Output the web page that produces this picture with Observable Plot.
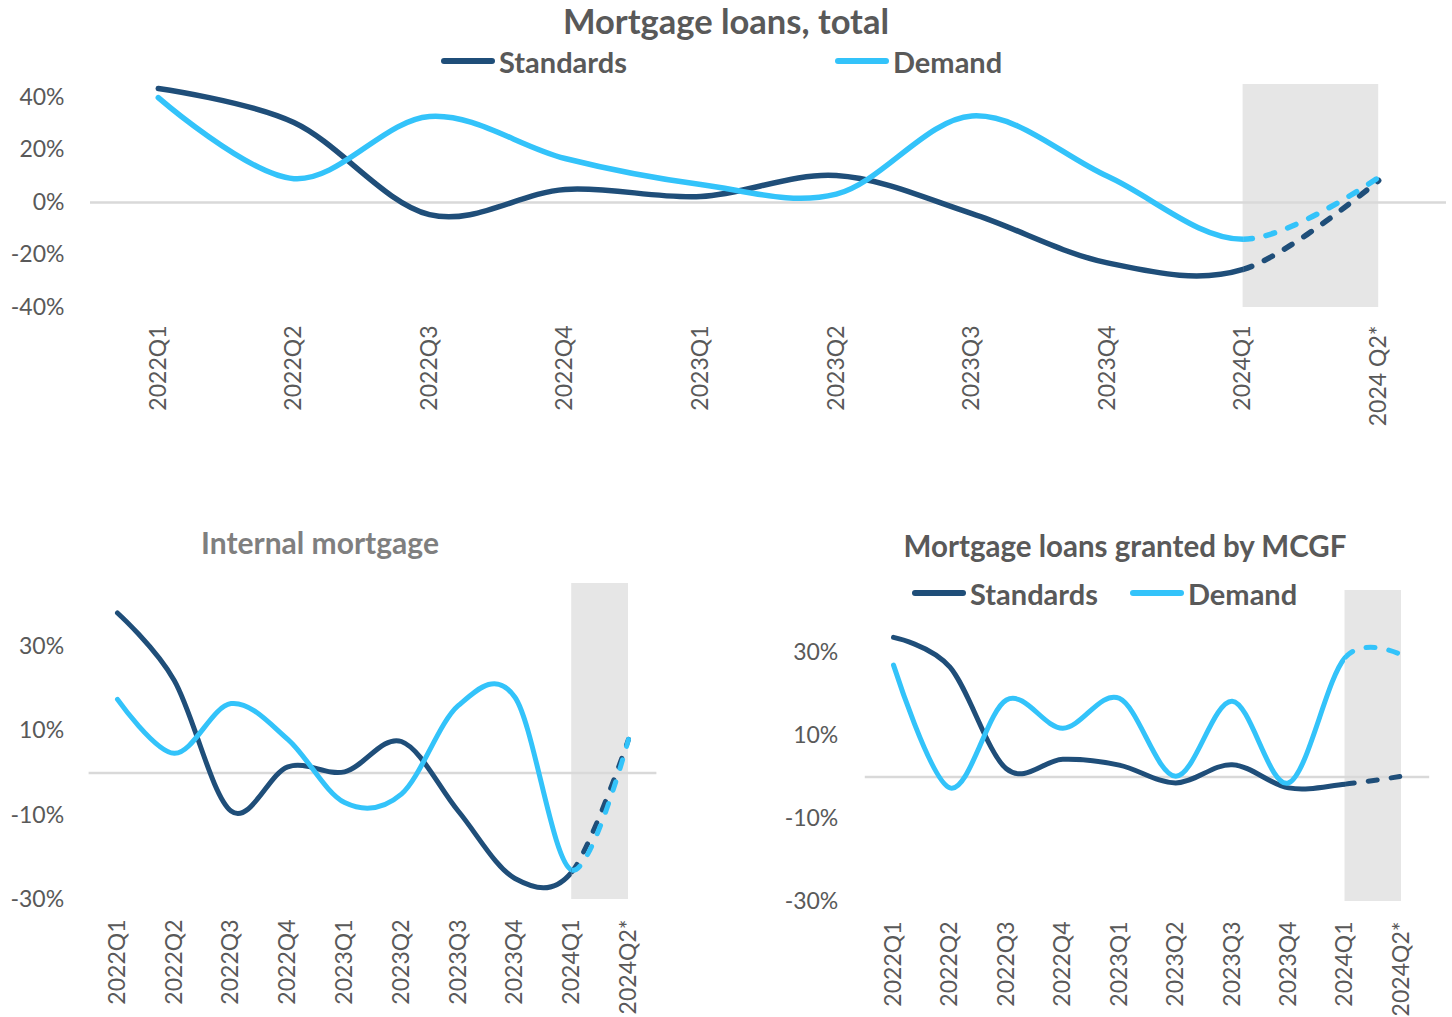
<!DOCTYPE html>
<html>
<head>
<meta charset="utf-8">
<script src="https://cdn.jsdelivr.net/npm/d3@7"></script>
<script src="https://cdn.jsdelivr.net/npm/@observablehq/plot@0.6"></script>
<style>
  html, body { margin: 0; padding: 0; background: #fff; }
  #root { position: relative; width: 1452px; height: 1017px; background: #fff; font-family: Lato, "Open Sans", sans-serif; color: #595959; overflow: hidden; }
  .title { position: absolute; font-weight: 700; white-space: nowrap; text-align: center; }
  .legend-item { position: absolute; display: flex; align-items: center; font-weight: 700; font-size: 29px; white-space: nowrap; }
  .legend-item .sw { display: inline-block; width: 54px; height: 6px; border-radius: 3px; margin-right: 4px; }
  .chart { position: absolute; }
  #err { position: absolute; left: 10px; top: 450px; color: red; font-size: 14px; white-space: pre; }
</style>
</head>
<body>
<div id="root"></div>
<script>
// ---------- data ----------
const categoriesTop = ["2022Q1","2022Q2","2022Q3","2022Q4","2023Q1","2023Q2","2023Q3","2023Q4","2024Q1","2024 Q2*"];
const categoriesBottom = ["2022Q1","2022Q2","2022Q3","2022Q4","2023Q1","2023Q2","2023Q3","2023Q4","2024Q1","2024Q2*"];
const yTicksTop = [-40, -20, 0, 20, 40];
const yTicksBottom = [-30, -10, 10, 30];

const totalStandards = [43.5, 30.5, -4.6, 5, 2.3, 10.3, -4.2, -23, -25.5, 8.4];
const totalDemand    = [40, 9.1, 32.8, 16.8, 6.9, 3.2, 33, 10, -14, 9.6];

const internalStandards = [38, 22, -9, 1.5, 0.3, 7.5, -9, -25, -23.5, 8];
const internalDemand    = [17.5, 4.7, 16.5, 8, -7, -5, 16, 18, -23, 8];

const mcgfStandards = [33.7, 26.5, 2, 4.3, 2.9, -1.4, 3, -2.6, -1.7, 0.2];
const mcgfDemand    = [27, -2.6, 18.6, 11.8, 19, 0.2, 18.3, -1.4, 28.8, 29.5];

const seriesNames = ["Standards", "Demand"];
const forecastStart = "2024Q1";   // shaded / dashed period starts here
const shadeTop = 45;              // top of shaded forecast area (%)

// ---------- style ----------
const colors = {Standards: "#1f4e79", Demand: "#33c3fa"};
const bandColor = "#e6e6e6";
const zeroColor = "#d9d9d9";

const root = document.getElementById("root");

function addText(cls, text, css) {
  const d = document.createElement("div");
  d.className = cls;
  d.textContent = text;
  Object.assign(d.style, css);
  root.appendChild(d);
  return d;
}
function addLegend(name, left, centerY) {
  const d = document.createElement("div");
  d.className = "legend-item";
  const sw = document.createElement("span");
  sw.className = "sw";
  sw.style.background = colors[name];
  const t = document.createElement("span");
  t.textContent = name;
  d.appendChild(sw); d.appendChild(t);
  d.style.left = left + "px";
  d.style.top = (centerY - 19) + "px";
  d.style.height = "36px";
  root.appendChild(d);
}

function makeChart(opts) {
  const {categories, standards, demand, yDomain, yTicks, left, top, width, height,
         marginLeft, marginRight, marginTop, marginBottom, yPad, xPad, sw, id} = opts;
  const n = categories.length;
  const fi = categories.indexOf(forecastStart);
  const rows = categories.map((c, i) => ({i, c, Standards: standards[i], Demand: demand[i]}));
  const band = [{x1: fi, x2: n - 1, y1: yDomain[0], y2: shadeTop}];
  const marks = [
    Plot.rect(band, {x1: "x1", x2: "x2", y1: "y1", y2: "y2", fill: bandColor}),
    Plot.ruleY([0], {stroke: zeroColor, strokeWidth: 2.5})
  ];
  for (const s of seriesNames) {
    marks.push(Plot.line(rows, {x: "i", y: s, stroke: colors[s], strokeWidth: sw, curve: "cardinal", tension: 0,
      strokeLinecap: "round", strokeLinejoin: "round", ariaDescription: "solid"}));
  }
  for (const s of seriesNames) {
    marks.push(Plot.line(rows, {x: "i", y: s, stroke: colors[s], strokeWidth: sw, curve: "cardinal", tension: 0,
      strokeLinecap: "round", strokeLinejoin: "round", strokeDasharray: "9,14", ariaDescription: "dashed"}));
  }
  const plot = Plot.plot({
    width, height, marginLeft, marginRight, marginTop, marginBottom,
    style: {fontFamily: "Lato, 'Open Sans', sans-serif", fontSize: "23px", color: "#595959", background: "transparent", overflow: "visible"},
    x: {type: "linear", domain: [-0.5, n - 0.5], ticks: d3.range(n), tickFormat: i => categories[i],
        tickRotate: -90, tickSize: 0, tickPadding: xPad, label: null},
    y: {domain: yDomain, ticks: yTicks, tickFormat: d => d + "%", tickSize: 0, tickPadding: yPad, label: null},
    marks
  });
  const holder = document.createElement("div");
  holder.className = "chart";
  holder.style.left = left + "px";
  holder.style.top = top + "px";
  holder.appendChild(plot);
  root.appendChild(holder);

  try {
    const X = plot.scale("x").apply(fi);
    const svg = d3.select(plot);
    const defs = svg.append("defs");
    defs.append("clipPath").attr("id", id + "-a").append("rect")
      .attr("x", -10).attr("y", -10).attr("width", X + 10).attr("height", height + 20);
    defs.append("clipPath").attr("id", id + "-b").append("rect")
      .attr("x", X).attr("y", -10).attr("width", width - X + 10).attr("height", height + 20);
    svg.selectAll('g[aria-description="solid"]').attr("clip-path", `url(#${id}-a)`);
    svg.selectAll('g[aria-description="dashed"]').attr("clip-path", `url(#${id}-b)`);
    // start the dash pattern where the forecast segment begins
    svg.selectAll('g[aria-description="dashed"] path').each(function() {
      const L = this.getTotalLength();
      let lo = 0, hi = L;
      for (let k = 0; k < 40; k++) {
        const mid = (lo + hi) / 2;
        if (this.getPointAtLength(mid).x < X) lo = mid; else hi = mid;
      }
      this.setAttribute("stroke-dashoffset", -lo);
    });
  } catch (e) {
    const d = document.createElement("div"); d.id = "err"; d.textContent = String(e); root.appendChild(d);
  }
  return plot;
}

try {
// ---------- top chart ----------
addText("title", "Mortgage loans, total", {left: "0px", width: "1452px", top: "0px", fontSize: "34.5px", lineHeight: "42px"});
addLegend("Standards", 441, 62);
addLegend("Demand", 835, 62);
makeChart({categories: categoriesTop, standards: totalStandards, demand: totalDemand,
  yDomain: [-40, shadeTop], yTicks: yTicksTop, left: 0, top: 70, width: 1452, height: 370,
  marginLeft: 90, marginRight: 6, marginTop: 14, marginBottom: 133, yPad: 26, xPad: 18, sw: 5.5, id: "c1"});

// ---------- bottom left ----------
addText("title", "Internal mortgage", {left: "0px", width: "640px", top: "523px", fontSize: "30px", lineHeight: "38px", color: "#7f7f7f"});
makeChart({categories: categoriesBottom, standards: internalStandards, demand: internalDemand,
  yDomain: [-30, shadeTop], yTicks: yTicksBottom, left: 0, top: 570, width: 700, height: 447,
  marginLeft: 88.6, marginRight: 43.6, marginTop: 13, marginBottom: 118, yPad: 25, xPad: 20, sw: 5, id: "c2"});

// ---------- bottom right ----------
addText("title", "Mortgage loans granted by MCGF", {left: "800px", width: "650px", top: "527px", fontSize: "29.5px", lineHeight: "38px"});
addLegend("Standards", 912, 594);
addLegend("Demand", 1130, 594);
makeChart({categories: categoriesBottom, standards: mcgfStandards, demand: mcgfDemand,
  yDomain: [-30, shadeTop], yTicks: yTicksBottom, left: 740, top: 570, width: 712, height: 447,
  marginLeft: 124.8, marginRight: 22.8, marginTop: 20, marginBottom: 116, yPad: 27, xPad: 20, sw: 5, id: "c3"});
} catch (e) {
  const d = document.createElement("div"); d.id = "err"; d.textContent = String(e && e.stack || e); root.appendChild(d);
}
</script>
</body>
</html>
